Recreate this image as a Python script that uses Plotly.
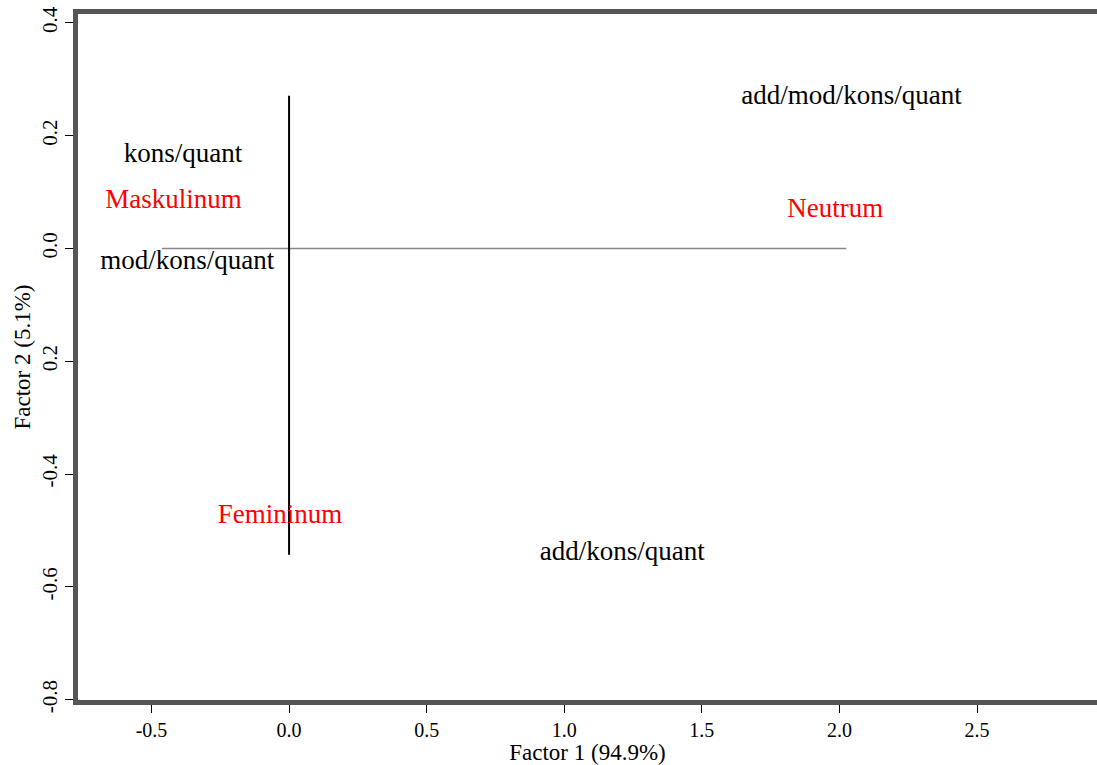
import plotly.graph_objects as go

# Data: correspondence analysis coordinates
col_labels = ["kons/quant", "mod/kons/quant", "add/mod/kons/quant", "add/kons/quant"]
col_x = [-0.385, -0.37, 2.044, 1.211]
col_y = [0.166, -0.024, 0.269, -0.540]

row_labels = ["Maskulinum", "Neutrum", "Femininum"]
row_x = [-0.42, 1.985, -0.033]
row_y = [0.084, 0.067, -0.474]

# reference axes lines (extent of the points)
hline_x = [-0.462, 2.025]
hline_y = [0.0, 0.0]
vline_x = [0.0, 0.0]
vline_y = [0.271, -0.543]

y_tickvals = [0.4, 0.2, 0.0, -0.2, -0.4, -0.6, -0.8]
y_ticktext = ["0.4", "0.2", "0.0", "0.2", "-0.4", "-0.6", "-0.8"]
x_tickvals = [-0.5, 0.0, 0.5, 1.0, 1.5, 2.0, 2.5]
x_ticktext = ["-0.5", "0.0", "0.5", "1.0", "1.5", "2.0", "2.5"]

FONT = "Liberation Serif"

fig = go.Figure()
fig.add_trace(go.Scatter(x=hline_x, y=hline_y, mode="lines",
                         line=dict(color="#888888", width=1.5), hoverinfo="skip"))
fig.add_trace(go.Scatter(x=vline_x, y=vline_y, mode="lines",
                         line=dict(color="#000000", width=2), hoverinfo="skip"))
fig.add_trace(go.Scatter(x=col_x, y=col_y, mode="text", text=col_labels,
                         textposition="middle center",
                         textfont=dict(family=FONT, size=27, color="#000000")))
fig.add_trace(go.Scatter(x=row_x, y=row_y, mode="text", text=row_labels,
                         textposition="middle center",
                         textfont=dict(family=FONT, size=27, color="#FF0000")))

fig.update_layout(
    width=1097, height=765,
    margin=dict(l=78, r=0, t=14, b=65, autoexpand=False),
    paper_bgcolor="white", plot_bgcolor="white",
    showlegend=False,
    font=dict(family=FONT, color="#000000"),
    xaxis=dict(range=[-0.767, 2.936], tickvals=x_tickvals, ticktext=x_ticktext,
               showgrid=False, zeroline=False, showline=True, linewidth=5,
               linecolor="#555555", mirror=True, ticks="outside", ticklen=8,
               tickcolor="#000000", tickwidth=1, ticklabeloverflow="allow",
               tickfont=dict(family=FONT, size=20),
               title=dict(text="Factor 1 (94.9%)", font=dict(family=FONT, size=23),
                          standoff=2)),
    yaxis=dict(range=[-0.8005, 0.4158], tickvals=y_tickvals, ticktext=y_ticktext,
               showgrid=False, zeroline=False, showline=True, linewidth=5,
               linecolor="#555555", mirror=False, ticks="outside", ticklen=8,
               tickcolor="#000000", tickwidth=1, tickangle=-90,
               ticklabeloverflow="allow",
               tickfont=dict(family=FONT, size=21),
               title=dict(text="Factor 2 (5.1%)", font=dict(family=FONT, size=23),
                          standoff=2)),
)

fig.write_html(
    "out.html",
    config={"displayModeBar": False},
    post_script="document.body.style.margin='0';document.body.style.overflow='hidden';",
)
